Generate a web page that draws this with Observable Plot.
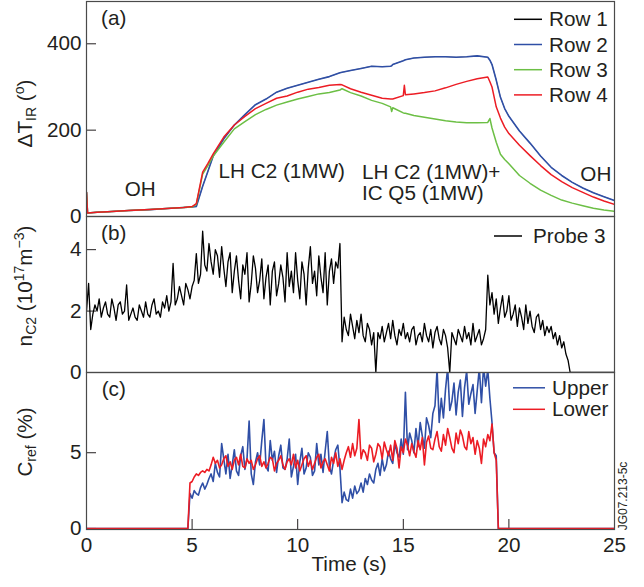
<!DOCTYPE html>
<html><head><meta charset="utf-8">
<script src="https://cdn.jsdelivr.net/npm/d3@7"></script>
<script src="https://cdn.jsdelivr.net/npm/@observablehq/plot@0.6"></script>
<style>
html,body{margin:0;padding:0;background:#fff;}
#chart{position:relative;width:644px;height:587px;overflow:hidden;background:#fff;}
#chart svg{position:absolute;left:0;top:0;}
</style></head><body><div id="chart"></div>
<script>
// ---------- data ----------
// Panel (a): ΔT_IR (degrees) per IR row, sampled at these times (s)
const aTime = [0,0.05,0.5,1,2,3,4,4.6,5.0,5.2,5.5,5.75,6.0,6.5,7.0,7.5,8.0,8.5,9.0,9.5,10.0,10.5,11.0,11.5,12.0,12.1,12.5,13.0,13.5,14.0,14.4,14.45,14.5,15.0,15.05,15.1,15.5,16.0,16.5,17.0,17.5,18.0,18.5,19.0,19.1,19.2,19.4,19.6,19.8,20.0,20.5,21.0,21.5,22.0,22.5,23.0,23.5,24.0,24.5,25.0];
const row2 = [56,8,10,11,14,16,19,21,22,23,70,105,140,180,212,236,259,272,288,297,304,311,318,324,333,334,338,343,348,347,348,349,352,361,362,363,367,369,370,370,369,370,372,369,362,352,316,276,250,232,198,170,140,114,95,79,66,55,46,37];
const row1 = [56,8,10,11,14,16,19,21,22,23,70,105,140,180,212,236,259,272,288,297,304,311,318,324,333,334,338,343,348,347,348,349,352,361,362,363,367,369,370,370,369,370,372,369,362,352,316,276,250,232,198,170,140,114,95,79,66,55,46,37];
const row4 = [56,8,10,11,14,16,19,21,23,30,103,123,145,184,212,232,250,262,274,279,288,295,299,304,306,305,296,288,281,274,272,272,272,280,304,282,284,287,291,298,306,313,319,323,312,300,254,228,207,192,165,141,118,97,81,67,56,45,36,28];
const row3 = [56,8,10,11,14,16,19,21,22,28,98,118,140,172,203,220,236,248,258,265,272,278,284,287,293,296,287,279,269,262,254,243,252,240,239,239,234,230,226,222,219,217,217,218,227,205,172,144,132,122,95,77,61,49,38,31,25,19,15,12];
const rowNames = ["Row 1","Row 2","Row 3","Row 4"];

// Panel (b): n_C2 (10^17 m^-3), Probe 3, from t = 0 s every 0.1 s, then zero to 25 s
const probeStep = 0.1;
const probe3 = [
 2.0,2.9,1.4,1.9,2.2,2.0,2.4,1.8,2.1,2.3,
 1.9,1.8,2.4,2.1,1.7,2.2,2.3,1.9,2.0,2.85,
 1.7,1.9,2.1,1.8,1.7,2.2,2.0,1.8,2.3,1.9,
 1.8,2.2,2.4,1.9,2.0,1.8,2.3,2.1,2.5,2.0,
 2.3,3.55,2.2,2.4,2.8,2.5,2.2,2.9,2.7,2.4,
 2.8,3.0,3.87,2.9,3.2,4.6,3.5,3.3,4.2,3.6,
 3.2,4.0,3.8,3.1,4.1,3.4,2.8,3.6,3.9,2.6,
 3.3,3.8,3.0,2.4,3.5,3.2,3.9,2.3,2.9,3.8,
 3.4,2.6,3.0,3.7,2.4,3.1,3.5,2.2,3.3,3.6,
 2.5,2.9,3.5,3.1,2.3,3.9,2.8,3.3,2.6,3.9,
 3.0,2.4,3.6,3.2,2.2,3.4,4.1,2.9,3.3,2.5,
 3.8,3.1,2.6,3.9,2.2,3.3,3.7,2.9,3.6,3.4,
 4.2,1.0,1.8,1.4,1.2,1.9,1.5,1.1,1.7,1.3,
 1.9,1.2,1.0,1.6,1.4,0.9,1.3,0.0,1.3,1.1,
 1.5,1.0,1.3,1.6,1.1,1.7,1.2,0.9,1.4,1.2,
 1.6,1.1,1.3,1.0,1.4,1.5,0.9,1.2,1.3,1.0,
 1.6,1.2,1.0,1.4,0.8,1.3,1.5,1.1,0.9,1.4,
 1.2,0.8,0.0,1.3,1.1,0.9,1.4,1.2,1.0,1.5,
 1.1,1.3,0.9,1.6,1.0,1.2,1.4,0.9,1.1,1.4,
 3.17,2.2,2.6,1.9,2.4,1.6,2.1,2.5,1.8,2.0,
 2.5,1.7,1.9,2.2,1.5,2.1,1.8,1.4,2.2,1.6,
 2.0,1.5,1.3,1.8,1.9,1.4,1.7,1.2,1.5,1.3,
 1.5,1.1,1.3,0.9,1.2,0.8,1.0,0.6,0.4,0.0
];

// Panel (c): C_ref (%), zero outside 4.8–19.5 s, sampled every 0.1 s from 4.8 s
const cStart = 4.8, cStep = 0.1;
const upper = [
 0,2.3,
 2.0,2.5,2.3,2.2,2.7,3.0,2.6,2.9,3.3,3.6,
 3.1,4.3,3.7,3.4,5.6,4.6,3.6,4.9,3.3,4.2,
 5.2,3.8,3.5,4.8,5.4,3.9,4.6,7.1,3.6,2.9,
 4.4,5.0,4.2,5.8,7.2,4.1,3.8,5.8,4.5,5.1,
 3.7,4.8,5.5,4.0,3.9,4.6,5.9,3.4,4.1,4.9,
 2.9,4.4,5.3,3.6,4.0,5.0,4.7,3.5,3.8,5.6,
 4.2,4.9,3.7,5.1,6.4,4.1,3.6,4.5,5.2,5.5,
 4.0,1.7,2.4,1.9,1.8,2.6,2.0,2.8,2.3,2.5,
 3.0,2.4,3.3,2.9,3.6,3.2,3.0,3.9,4.3,3.5,
 4.6,3.8,4.2,5.1,4.6,4.3,5.6,5.0,4.7,5.9,
 4.9,9.0,5.2,6.3,5.8,5.0,6.6,5.4,7.0,6.1,
 5.3,7.3,6.8,6.0,7.6,8.1,10.5,7.0,8.6,7.3,
 9.2,10.6,7.8,8.4,9.6,7.5,9.0,9.8,7.4,9.3,
 10.4,8.2,8.9,9.5,7.6,9.1,10.6,8.3,10.7,9.4,
 10.5,8.6,7.0,5.0,4.8,0
];
const lower = [
 0,3.0,
 3.1,3.4,3.6,3.5,3.7,3.8,3.7,3.9,3.8,4.2,
 4.7,4.3,4.5,4.0,4.2,4.6,4.8,4.1,4.4,3.9,
 4.5,4.7,4.2,4.9,4.1,4.0,4.6,4.3,4.5,3.9,
 4.2,4.6,4.8,4.1,4.4,4.0,4.3,4.7,4.6,3.8,
 4.3,4.5,4.8,4.2,3.9,4.4,4.6,4.2,4.9,4.0,
 4.5,3.8,4.2,4.6,4.8,4.1,4.5,3.9,4.3,4.7,
 4.9,4.0,4.4,4.6,4.2,3.8,4.7,4.3,5.0,4.1,
 4.6,3.9,4.5,5.0,5.4,4.7,5.6,4.8,5.3,7.2,
 4.6,5.2,5.0,4.5,5.5,5.3,4.4,4.9,5.6,5.4,
 4.6,5.7,5.2,4.8,5.5,4.5,5.8,5.3,4.0,5.4,
 5.0,5.9,5.5,4.8,5.6,5.1,4.7,5.8,5.2,6.0,
 4.2,5.7,6.1,5.3,5.2,5.9,6.4,5.4,5.1,6.2,
 5.5,6.6,6.0,5.3,5.0,6.3,5.6,6.5,6.1,5.4,
 5.2,6.4,5.6,6.0,4.9,5.8,5.3,4.3,5.9,5.4,
 6.2,5.8,6.9,5.0,4.5,0
];
const tEnd = 25;

const xTicks = [0,5,10,15,20,25];
const aTicks = [0,200,400];
const bTicks = [0,2,4];
const cTicks = [0,5];

// ---------- build tables ----------
const rowSeries = [row1,row2,row3,row4].map((vals,k)=>vals.map((v,i)=>({t:aTime[i], v, s:rowNames[k]})));
const probeData = probe3.map((v,i)=>({t:+(i*probeStep).toFixed(2), v})).concat([{t:tEnd, v:0}]);
const mkC = arr => [{t:0,v:0}].concat(arr.map((v,i)=>({t:+(cStart+i*cStep).toFixed(2), v})), [{t:tEnd,v:0}]);
const upperData = mkC(upper), lowerData = mkC(lower);

// ---------- layout ----------
const W = 644, H = 587, ML = 86, MR = 30;
const FS = 20.7;
const FONT = "'Liberation Sans', Arial, Helvetica, sans-serif";
const TXT = "#231f20", FRAME = "#4a4a4a";
const BLUE = "#2f4fa6", RED = "#ec1c24", GREEN = "#6cbf45", BLACK = "#000";
const rowColors = [BLACK, BLUE, GREEN, RED];
const rowWidths = [0.4, 1.6, 1.5, 1.5];
const style = {position:"absolute", left:"0px", top:"0px", background:"transparent", overflow:"visible", fontFamily:FONT, fontSize:FS+"px", color:TXT};
const yAxis = ticks => Plot.axisY(ticks, {tickSize:-10, tickPadding:15, fontSize:FS, color:TXT, label:null});
const note = (t, v, s, anchor="start") => Plot.text([{t, v, s}], {x:"t", y:"v", text:"s", textAnchor:anchor, fontSize:FS, fill:TXT});

const chart = document.getElementById("chart");

const pa = Plot.plot({
  width:W, height:H, marginLeft:ML, marginRight:MR, marginTop:1, marginBottom:H-216,
  x:{domain:[0,25], axis:null}, y:{domain:[0,498], axis:null}, style,
  marks:[
    yAxis(aTicks),
    ...rowSeries.map((d,k)=>Plot.line(d, {x:"t", y:"v", stroke:rowColors[k], strokeWidth:rowWidths[k], clip:true})),
    Plot.frame({stroke:FRAME, strokeWidth:1.2}),
    note(1.29, 458, "(a)", "middle"),
    note(2.54, 62, "OH", "middle"),
    note(6.25, 105, "LH C2 (1MW)"),
    note(13.04, 102, "LH C2 (1MW)+"),
    note(13.04, 53, "IC Q5 (1MW)"),
    note(24.85, 97, "OH", "end")
  ]
});
const pb = Plot.plot({
  width:W, height:H, marginLeft:ML, marginRight:MR, marginTop:216, marginBottom:H-372,
  x:{domain:[0,25], axis:null}, y:{domain:[0,5.08], axis:null}, style,
  marks:[
    yAxis(bTicks),
    Plot.line(probeData, {x:"t", y:"v", stroke:BLACK, strokeWidth:1.3, clip:true}),
    Plot.frame({stroke:FRAME, strokeWidth:1.2}),
    note(1.29, 4.53, "(b)", "middle")
  ]
});
const pc = Plot.plot({
  width:W, height:H, marginLeft:ML, marginRight:MR, marginTop:372, marginBottom:H-529,
  x:{domain:[0,25], axis:null}, y:{domain:[-0.07,10.3], axis:null}, style,
  marks:[
    yAxis(cTicks),
    Plot.axisX(xTicks, {tickSize:-10, tickPadding:18, fontSize:FS, color:TXT, label:null}),
    Plot.line(upperData, {x:"t", y:"v", stroke:BLUE, strokeWidth:1.6, clip:true}),
    Plot.line(lowerData, {x:"t", y:"v", stroke:RED, strokeWidth:1.6, clip:true}),
    Plot.frame({stroke:FRAME, strokeWidth:1.2}),
    note(1.29, 9.18, "(c)", "middle")
  ]
});
chart.append(pa, pb, pc);

// ---------- overlay: legends and axis titles ----------
const ov = d3.create("svg").attr("width", W).attr("height", H)
  .attr("font-family", FONT).attr("fill", TXT).attr("font-size", FS)
  .style("overflow","visible");

function legend(items, x1, x2, tx, y0, dy) {
  items.forEach(([label,color],i)=>{
    const y = y0 + i*dy;
    ov.append("line").attr("x1",x1).attr("x2",x2).attr("y1",y).attr("y2",y).attr("stroke",color).attr("stroke-width",1.5);
    ov.append("text").attr("x",tx).attr("y",y+7).text(label);
  });
}
legend(rowNames.map((n,i)=>[n,rowColors[i]]), 514, 542, 549, 19.3, 25.2);
legend([["Probe 3",BLACK]], 494, 522, 533, 236, 0);
legend([["Upper",BLUE],["Lower",RED]], 513, 545, 552, 387.8, 21.5);

// y-axis titles (rotated)
function ytitle(x, y, parts) {
  const t = ov.append("text").attr("transform",`translate(${x},${y}) rotate(-90)`).attr("text-anchor","middle");
  parts.forEach(([s, kind])=>{
    const sp = t.append("tspan").text(s);
    if (kind==="sub") sp.attr("font-size",14).attr("baseline-shift","-4");
    if (kind==="sup") sp.attr("font-size",14).attr("baseline-shift","8");
  });
}
ytitle(31.5, 113.5, [["ΔT"],["IR","sub"],[" ("],["o","sup"],[")"]]);
ytitle(31.5, 286, [["n"],["C2","sub"],[" (10"],["17","sup"],["m"],["−3","sup"],[")"]]);
ytitle(31.5, 442, [["C"],["ref","sub"],[" (%)"]]);

ov.append("text").attr("x",349).attr("y",571).attr("text-anchor","middle").text("Time (s)");
ov.append("text").attr("transform","translate(627,496) rotate(-90)").attr("text-anchor","middle")
  .attr("font-size",12).text("JG07.213-5c");

chart.append(ov.node());
</script></body></html>
